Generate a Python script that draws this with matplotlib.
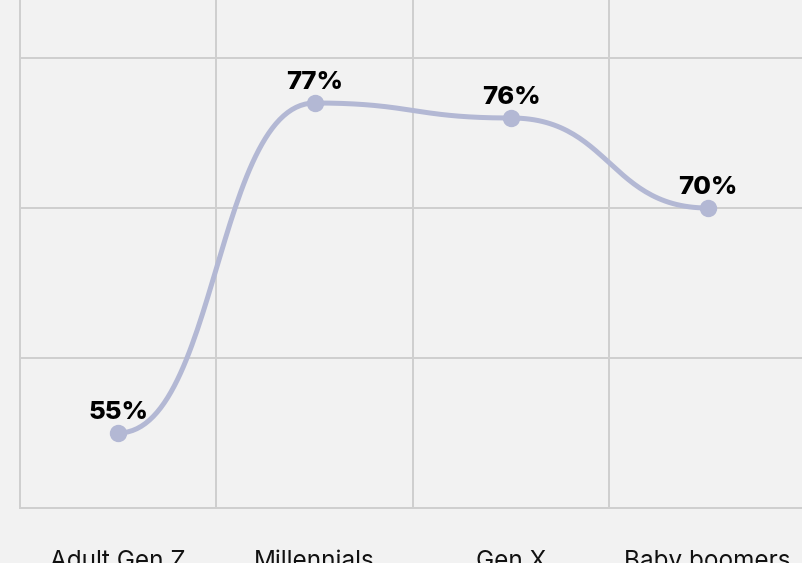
import numpy as np
import matplotlib
matplotlib.use("Agg")
import matplotlib.pyplot as plt

generations = ["Adult Gen Z", "Millennials", "Gen X", "Baby boomers"]
shares = [55, 77, 76, 70]
labels = ["55%", "77%", "76%", "70%"]

bg = "#f2f2f2"
grid_col = "#cfcfcf"
line_col = "#b3b8d4"


def bump_x(xs, ys, n=60):
    # horizontal tangents at every point (like d3 curveBumpX)
    px, py = [], []
    t = np.linspace(0, 1, n)
    for i in range(len(xs) - 1):
        x0, x1 = xs[i], xs[i + 1]
        y0, y1 = ys[i], ys[i + 1]
        xm = (x0 + x1) / 2
        bx = (1 - t) ** 3 * x0 + 3 * (1 - t) ** 2 * t * xm + 3 * (1 - t) * t ** 2 * xm + t ** 3 * x1
        by = (1 - t) ** 3 * y0 + 3 * (1 - t) ** 2 * t * y0 + 3 * (1 - t) * t ** 2 * y1 + t ** 3 * y1
        px.extend(bx)
        py.extend(by)
    return np.array(px), np.array(py)


fig = plt.figure(figsize=(8.02, 5.63), dpi=100, facecolor=bg)
ax = fig.add_axes([20 / 802, 1 - 508 / 563, 786 / 802, 508 / 563])
ax.set_facecolor(bg)

x = np.arange(len(generations))
cx, cy = bump_x(x, shares)
ax.plot(cx, cy, color=line_col, lw=3.6, solid_capstyle="round", zorder=3)
ax.plot(x, shares, "o", color=line_col, ms=11.5, zorder=4)

for xi, yi, lab in zip(x, shares, labels):
    ax.annotate(lab, (xi, yi), xytext=(0, 10), textcoords="offset points",
                ha="center", va="baseline", fontsize=18.5, fontweight="heavy",
                family="Inter", color="#000000", zorder=5)

ax.set_xlim(-0.5, 3.5)
ax.set_ylim(50, 50 + 508 / 15)
ax.set_xticks(x)
ax.set_xticklabels(generations, fontsize=17.5, family="Inter", color="#111111")
ax.set_xticks(np.arange(-0.5, 4, 1), minor=True)
ax.set_yticks([50, 60, 70, 80])
ax.set_yticklabels([])
ax.tick_params(axis="both", which="both", length=0)
ax.tick_params(axis="x", which="major", pad=30)
ax.grid(True, which="minor", axis="x", color=grid_col, lw=1.4)
ax.grid(True, which="major", axis="y", color=grid_col, lw=1.4)
for side in ["top", "right"]:
    ax.spines[side].set_visible(False)
for side in ["left", "bottom"]:
    ax.spines[side].set_color(grid_col)
    ax.spines[side].set_linewidth(1.4)

fig.savefig("out.png", dpi=100, facecolor=bg)
